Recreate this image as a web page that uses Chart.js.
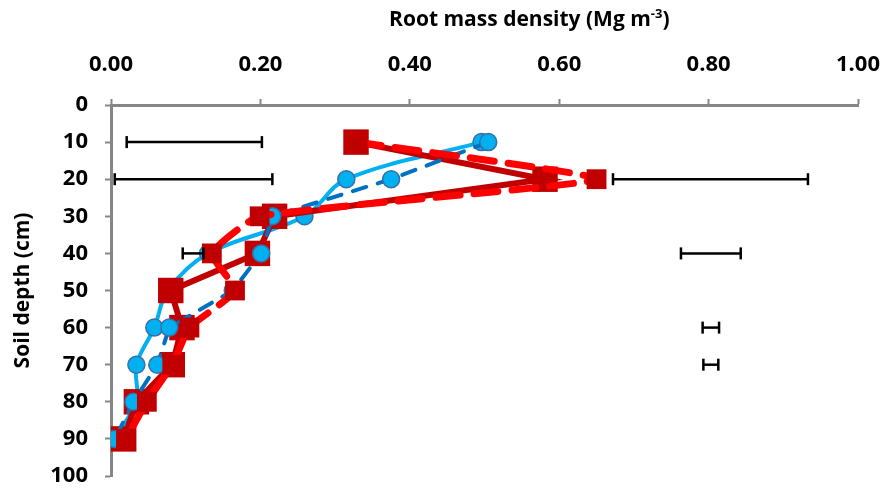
<!DOCTYPE html>
<html>
<head>
<meta charset="utf-8">
<script src="https://cdn.jsdelivr.net/npm/chart.js@4"></script>
<style>
  html, body { margin: 0; padding: 0; background: #fff; }
  #chart { display: block; }
</style>
</head>
<body>
<canvas id="chart" width="888" height="490"></canvas>
<script>
// Soil depth (cm) of each sample
const depths = [10, 20, 30, 40, 50, 60, 70, 80, 90];

// Root mass density (Mg m-3) per series
const lightBlueSolid = [0.496, 0.315, 0.259, 0.13, 0.076, 0.058, 0.034, 0.034, 0.003];
const blueDashed     = [0.505, 0.375, 0.216, 0.201, 0.163, 0.078, 0.062, 0.03, 0.005];
const darkRedSolid   = [0.328, 0.581, 0.219, 0.196, 0.08, 0.095, 0.082, 0.034, 0.017];
const redDashed      = [0.33, 0.65, 0.199, 0.135, 0.166, 0.105, 0.082, 0.048, 0.02];

// Error bars: depth, low end, high end
const errDepth = [10, 20, 40, 20, 40, 60, 70];
const errLow   = [0.021, 0.005, 0.096, 0.672, 0.763, 0.792, 0.793];
const errHigh  = [0.202, 0.216, 0.124, 0.933, 0.843, 0.814, 0.813];

// Axis ticks
const xTicks = [0, 0.2, 0.4, 0.6, 0.8, 1.0];
const yTicks = [0, 10, 20, 30, 40, 50, 60, 70, 80, 90, 100];

const FONT = '"Open Sans", "Liberation Sans", sans-serif';
const AXIS_GREY = '#868686';

function pts(xs) {
    return xs.map(function (v, i) { return { x: v, y: depths[i] }; });
}

const series = [
    {
        label: 'red dashed', data: pts(redDashed), order: 1,
        borderColor: '#FF0000', borderWidth: 7, borderDash: [24, 14], borderCapStyle: 'round',
        tension: 0.15, pointStyle: 'rect', pointRadius: 14,
        pointBackgroundColor: '#C00000', pointBorderColor: '#C00000', pointBorderWidth: 0
    },
    {
        label: 'blue dashed', data: pts(blueDashed), order: 2,
        borderColor: '#0070C0', borderWidth: 4, borderDash: [14, 12], borderCapStyle: 'round',
        tension: 0, pointStyle: 'circle', pointRadius: 8.5,
        pointBackgroundColor: '#00B0F0', pointBorderColor: '#3A6EA8', pointBorderWidth: 1.5
    },
    {
        label: 'dark red solid', data: pts(darkRedSolid), order: 3,
        borderColor: '#C00000', borderWidth: 6, tension: 0,
        pointStyle: 'rect', pointRadius: 18,
        pointBackgroundColor: '#C00000', pointBorderColor: '#C00000', pointBorderWidth: 0
    },
    {
        label: 'light blue solid', data: pts(lightBlueSolid), order: 4,
        borderColor: '#00B0F0', borderWidth: 4, tension: 0.35,
        pointStyle: 'circle', pointRadius: 8.5,
        pointBackgroundColor: '#00B0F0', pointBorderColor: '#3A6EA8', pointBorderWidth: 1.5
    }
];

const errorBars = errDepth.map(function (d, i) {
    return {
        label: 'err' + i,
        data: [{ x: errLow[i], y: d }, { x: errHigh[i], y: d }],
        order: 0,
        borderColor: '#000', borderWidth: 2.5, tension: 0,
        pointStyle: 'line', rotation: 90, pointRadius: 6,
        pointBorderColor: '#000', pointBorderWidth: 2.5
    };
});

// Top axis title with a real superscript
const xTitlePlugin = {
    id: 'xTitle',
    afterDraw: function (chart) {
        const ctx = chart.ctx;
        const cx = chart.scales.x.getPixelForValue(0.56);
        const y = 26;
        const main = 'Root mass density (Mg m';
        const sup = '-3';
        const tail = ')';
        ctx.save();
        ctx.fillStyle = '#000';
        ctx.textBaseline = 'alphabetic';
        ctx.textAlign = 'left';
        ctx.font = 'bold 21px ' + FONT;
        const w1 = ctx.measureText(main).width;
        const w3 = ctx.measureText(tail).width;
        ctx.font = 'bold 13px ' + FONT;
        const w2 = ctx.measureText(sup).width;
        let x = cx - (w1 + w2 + w3) / 2;
        ctx.font = 'bold 21px ' + FONT;
        ctx.fillText(main, x, y);
        x += w1;
        ctx.font = 'bold 13px ' + FONT;
        ctx.fillText(sup, x, y - 8);
        x += w2;
        ctx.font = 'bold 21px ' + FONT;
        ctx.fillText(tail, x, y);
        ctx.restore();
    }
};

new Chart(document.getElementById('chart'), {
    type: 'scatter',
    data: {
        datasets: errorBars.concat(series).map(function (s) { return Object.assign({ showLine: true }, s); })
    },
    options: {
        responsive: false,
        animation: false,
        devicePixelRatio: 1,
        layout: { autoPadding: false, padding: { top: 0, left: 0, right: 30, bottom: 14 } },
        plugins: { legend: { display: false }, tooltip: { enabled: false } },
        elements: { line: { fill: false } },
        scales: {
            x: {
                type: 'linear', position: 'top', min: 0, max: 1,
                afterFit: function (s) { s.height = 105; s.paddingLeft = 0; s.paddingRight = 0; },
                afterBuildTicks: function (s) { s.ticks = xTicks.map(function (v) { return { value: v }; }); },
                ticks: {
                    padding: 21, color: '#000',
                    font: { family: FONT, size: 22, weight: 'bold' },
                    callback: function (v) { return Number(v).toFixed(2); }
                },
                grid: { drawOnChartArea: false, drawTicks: true, tickLength: 6, tickWidth: 2, tickColor: AXIS_GREY },
                border: { color: AXIS_GREY, width: 3 }
            },
            y: {
                type: 'linear', reverse: true, min: 0, max: 100,
                afterFit: function (s) { s.width = 111; s.paddingTop = 0; s.paddingBottom = 0; },
                afterBuildTicks: function (s) { s.ticks = yTicks.map(function (v) { return { value: v }; }); },
                ticks: {
                    padding: 17, color: '#000',
                    font: { family: FONT, size: 22, weight: 'bold' }
                },
                title: {
                    display: true, text: 'Soil depth (cm)', color: '#000',
                    font: { family: FONT, size: 21, weight: 'bold' },
                    padding: { top: 10, bottom: 0 }
                },
                grid: { drawOnChartArea: false, drawTicks: true, tickLength: 6, tickWidth: 2, tickColor: AXIS_GREY },
                border: { color: AXIS_GREY, width: 3 }
            }
        }
    },
    plugins: [xTitlePlugin]
});
</script>
</body>
</html>
